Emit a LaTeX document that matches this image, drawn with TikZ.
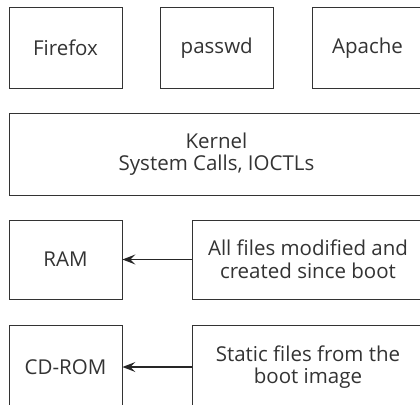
\documentclass[tikz,border=0pt]{standalone}
\usepackage{fontspec}
\setmainfont{Open Sans}
\usetikzlibrary{arrows.meta}
\begin{document}
\begin{tikzpicture}[x=1pt,y=-1pt,
  box/.style={draw=black!80, line width=0.9pt, inner sep=0pt, align=center, text=black!80, font=\fontsize{20.5}{22.5}\selectfont},
  feed/.style={-{Stealth[length=13pt,width=10pt,inset=5pt]}, line width=1.5pt, draw=black!85}]
\useasboundingbox (0,0) rectangle (420,404);
\clip (0,0) rectangle (420,404);
\node[box, minimum width=113pt, minimum height=80.5pt] (firefox) at (65.5,47.75) {Firefox};
\node[box, minimum width=112.5pt, minimum height=80.5pt] (passwd) at (216.75,47.75) {passwd};
\node[box, minimum width=111pt, minimum height=80.5pt] (apache) at (367.5,47.75) {Apache};
\node[box, minimum width=415pt, minimum height=82pt] (kernel) at (216.5,154) {Kernel\\System Calls, IOCTLs};
\node[box, minimum width=113pt, minimum height=79pt] (ram) at (65.5,259.5) {RAM};
\node[box, minimum width=232pt, minimum height=79pt] (allfiles) at (308,259.5) {All files modified and\\created since boot};
\node[box, minimum width=113pt, minimum height=84pt] (cdrom) at (65.5,367) {CD-ROM};
\node[box, minimum width=232pt, minimum height=84pt] (static) at (308,367) {Static files from the\\boot image};
\draw[feed] (allfiles.west) -- (ram.east);
\draw[feed] (static.west) -- (cdrom.east);
\end{tikzpicture}
\end{document}
